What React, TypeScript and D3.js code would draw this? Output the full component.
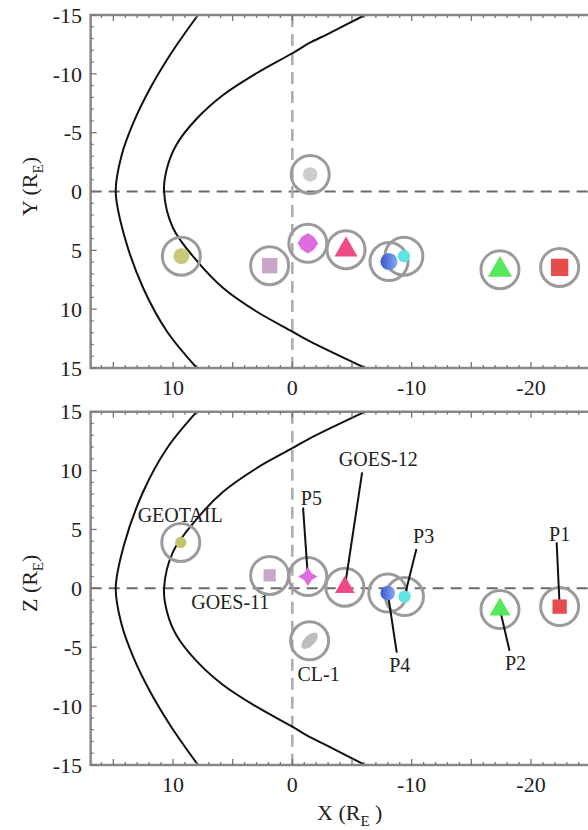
import React from "react";
import * as d3 from "d3";

const W = 588,
  H = 830;
const FONT = "'Liberation Serif', 'Times New Roman', serif";

// boundary curves, same in both panels (X vs Y, or X vs Z), in R_E
const bowShockY = [-15, -13.6, -11.6, -8.8, -5.9, -3.1, 0, 3.7, 8.2, 11.9, 15];
const bowShockX = [7.9, 8.9, 10.25, 11.9, 13.3, 14.3, 14.8, 14.1, 12.5, 10.5, 8.0];
const pauseY = [-15, -13.4, -12.6, -11.75, -10.05, -8.2, -6.2, -4.0, -2.0, 0, 3.1, 5.9, 8.2, 10.2, 11.9, 12.7, 15];
const pauseX = [-6.1, -3.0, -1.4, 0, 3.0, 5.8, 8.0, 9.7, 10.5, 10.75, 10.0, 8.0, 5.8, 3.0, 0, -1.4, -6.1];

// spacecraft (P3 before P4 so the blue one sits on top)
const craft = ["CL-1", "GEOTAIL", "GOES-11", "P5", "GOES-12", "P3", "P4", "P2", "P1"];
const topShape = ["circle", "circle", "square", "blob", "triangle", "circle", "circle", "triangle", "square"];
const botShape = ["ellipse", "circle", "square", "star", "triangle", "circle", "circle", "triangle", "square"];
const craftColor = ["#cdcdcd", "#c9c97b", "#c9a6c9", "#dc6ee0", "#ee4a86", "#5fe3e3", "url(#p4grad)", "#55e85a", "#e74c4c"];
const craftColorZ = ["#bdbdbd", "#c3c36a", "#c9a6c9", "#dc6ee0", "#ee4a86", "#5fe3e3", "url(#p4grad)", "#55e85a", "#e74c4c"];
const topX = [-1.5, 9.3, 1.9, -1.3, -4.5, -9.35, -8.1, -17.4, -22.4];
const topY = [-1.45, 5.5, 6.3, 4.4, 4.95, 5.5, 5.95, 6.65, 6.45];
const topSize = [165, 200, 240, 290, 230, 120, 230, 250, 300];
const botX = [-1.45, 9.35, 1.9, -1.3, -4.4, -9.4, -8.0, -17.4, -22.4];
const botZ = [-4.45, 3.9, 1.1, 1.0, 0.1, -0.7, -0.4, -1.8, -1.55];
const botSize = [170, 100, 150, 260, 170, 120, 170, 190, 205];

// labels in the X-Z panel, with leader line start points
const labelText = ["GEOTAIL", "GOES-11", "CL-1", "P5", "GOES-12", "P3", "P4", "P2", "P1"];
const labelX = [9.4, 5.2, -2.2, -1.6, -7.2, -11.0, -9.0, -18.7, -22.4];
const labelZ = [6.2, -1.2, -7.3, 7.65, 11.0, 4.45, -6.5, -6.35, 4.6];
const leadX = [NaN, NaN, NaN, -0.9, -5.85, -10.4, -8.75, -18.2, -22.15];
const leadZ = [NaN, NaN, NaN, 6.85, 9.85, 3.35, -5.45, -5.3, 3.9];

const xTickLabels = [10, 0, -10, -20];
const yTickLabels = [-15, -10, -5, 0, 5, 10, 15];

const x = d3.scaleLinear().domain([10, -20]).range([173, 531]);
const xLeft = 16.9,
  xRight = -25;

// four-pointed star; k sets how fat the waist is
const star = (k: number) => ({
  draw(ctx: any, size: number) {
    const r = Math.sqrt(size) * 0.6;
    const w = r * k;
    ctx.moveTo(0, -r);
    ctx.lineTo(w, -w);
    ctx.lineTo(r, 0);
    ctx.lineTo(w, w);
    ctx.lineTo(0, r);
    ctx.lineTo(-w, w);
    ctx.lineTo(-r, 0);
    ctx.lineTo(-w, -w);
    ctx.closePath();
  },
});
// elongated blob tilted along the diagonal
const tiltedEllipse = {
  draw(ctx: any, size: number) {
    const a = Math.sqrt(size) * 0.8,
      b = a * 0.5;
    const pts = d3.range(0, 24).map((i) => {
      const t = (i / 24) * 2 * Math.PI;
      const px = a * Math.cos(t),
        py = b * Math.sin(t);
      return [(px + py) * Math.SQRT1_2, (py - px) * Math.SQRT1_2];
    });
    pts.forEach(([px, py], i) => (i ? ctx.lineTo(px, py) : ctx.moveTo(px, py)));
    ctx.closePath();
  },
};
const symbols: any = {
  circle: d3.symbolCircle,
  square: d3.symbolSquare,
  triangle: d3.symbolTriangle,
  star: star(0.38),
  blob: star(0.62),
  ellipse: tiltedEllipse,
};

function Panel({ y, title, xs, ys, sizes, shapes, colors, labels }: any) {
  const x0 = x(xLeft),
    x1 = x(xRight);
  const [yTop, yBot] = [y.range()[0], y.range()[1]];
  const curve = (xv: number[], yv: number[]) =>
    d3
      .line<number>()
      .x((i) => x(xv[i]))
      .y((i) => y(yv[i]))
      .curve(d3.curveCatmullRom)(d3.range(xv.length)) as string;

  const minorX = d3.range(-25, 17);
  const minorY = d3.range(-15, 16);
  const tk = (v: number) => (v % 5 === 0 ? 6 : 3);

  return (
    <g>
      {/* zero lines */}
      <line x1={x0} x2={x1} y1={y(0)} y2={y(0)} stroke="#6a6a6a" strokeWidth={2} strokeDasharray="11 7" />
      <line x1={x(0)} x2={x(0)} y1={yTop} y2={yBot} stroke="#ababab" strokeWidth={2.5} strokeDasharray="12 7" />

      <path d={curve(bowShockX, bowShockY)} fill="none" stroke="#111" strokeWidth={2} />
      <path d={curve(pauseX, pauseY)} fill="none" stroke="#111" strokeWidth={2} />

      {/* frame and inward ticks */}
      <path d={`M${x1},${yTop}H${x0}V${yBot}H${x1}`} fill="none" stroke="#888" strokeWidth={2.5} />
      {minorX.map((v) => (
        <g key={"tx" + v} stroke="#777" strokeWidth={1.3}>
          <line x1={x(v)} x2={x(v)} y1={yTop} y2={yTop + tk(v)} />
          <line x1={x(v)} x2={x(v)} y1={yBot} y2={yBot - tk(v)} />
        </g>
      ))}
      {minorY.map((v) => (
        <line key={"ty" + v} x1={x0} x2={x0 + tk(v)} y1={y(v)} y2={y(v)} stroke="#777" strokeWidth={1.3} />
      ))}

      {/* tick labels */}
      {xTickLabels.map((v) => (
        <text key={"lx" + v} x={x(v)} y={yBot + 27} textAnchor="middle" fontSize={22} fontFamily={FONT} fill="#222">
          {v}
        </text>
      ))}
      {yTickLabels.map((v) => (
        <text key={"ly" + v} x={82} y={y(v)} dy="0.35em" textAnchor="end" fontSize={22} fontFamily={FONT} fill="#222">
          {v}
        </text>
      ))}
      <text
        transform={`translate(37,${(yTop + yBot) / 2 - 5}) rotate(-90)`}
        textAnchor="middle"
        fontSize={22}
        fontFamily={FONT}
        fill="#222"
      >
        {title} (R<tspan dy="6" fontSize={15}>E</tspan>
        <tspan dy="-6">)</tspan>
      </text>

      {/* rings */}
      {craft.map((c, i) => (
        <circle key={"r" + c} cx={x(xs[i])} cy={y(ys[i])} r={19} fill="none" stroke="#9b9b9b" strokeWidth={3} />
      ))}

      {/* leader lines */}
      {labels &&
        labelText.map((t, i) => {
          const j = craft.indexOf(t);
          return isNaN(leadX[i]) ? null : (
            <line key={"ld" + t} x1={x(leadX[i])} y1={y(leadZ[i])} x2={x(xs[j])} y2={y(ys[j])} stroke="#111" strokeWidth={2} />
          );
        })}

      {/* markers */}
      {craft.map((c, i) => (
        <path
          key={"m" + c}
          transform={`translate(${x(xs[i])},${y(ys[i])})`}
          d={d3.symbol(symbols[shapes[i]], sizes[i])() as string}
          fill={colors[i]}
        />
      ))}

      {labels &&
        labelText.map((t, i) => (
          <text
            key={"lb" + t}
            x={x(labelX[i])}
            y={y(labelZ[i])}
            dy="0.35em"
            textAnchor="middle"
            fontSize={20}
            fontFamily={FONT}
            fill="#222"
          >
            {t}
          </text>
        ))}
    </g>
  );
}

export default function App() {
  const yTopPanel = d3.scaleLinear().domain([-15, 15]).range([15, 368]);
  const zPanel = d3.scaleLinear().domain([15, -15]).range([411.7, 765]);
  return (
    <svg width={W} height={H} style={{ position: "absolute", left: 0, top: 0, background: "#fff" }}>
      <defs>
        <linearGradient id="p4grad" x1="0" x2="1" y1="0" y2="0">
          <stop offset="0" stopColor="#3557c8" />
          <stop offset="1" stopColor="#8aa8f2" />
        </linearGradient>
      </defs>
      <Panel y={yTopPanel} title="Y" xs={topX} ys={topY} sizes={topSize} shapes={topShape} colors={craftColor} labels={false} />
      <Panel y={zPanel} title="Z" xs={botX} ys={botZ} sizes={botSize} shapes={botShape} colors={craftColorZ} labels={true} />
      <text x={317} y={820} fontSize={22} fontFamily={FONT} fill="#222">
        X (R<tspan dy="6" fontSize={15}>E</tspan>
        <tspan dy="-6"> )</tspan>
      </text>
    </svg>
  );
}
